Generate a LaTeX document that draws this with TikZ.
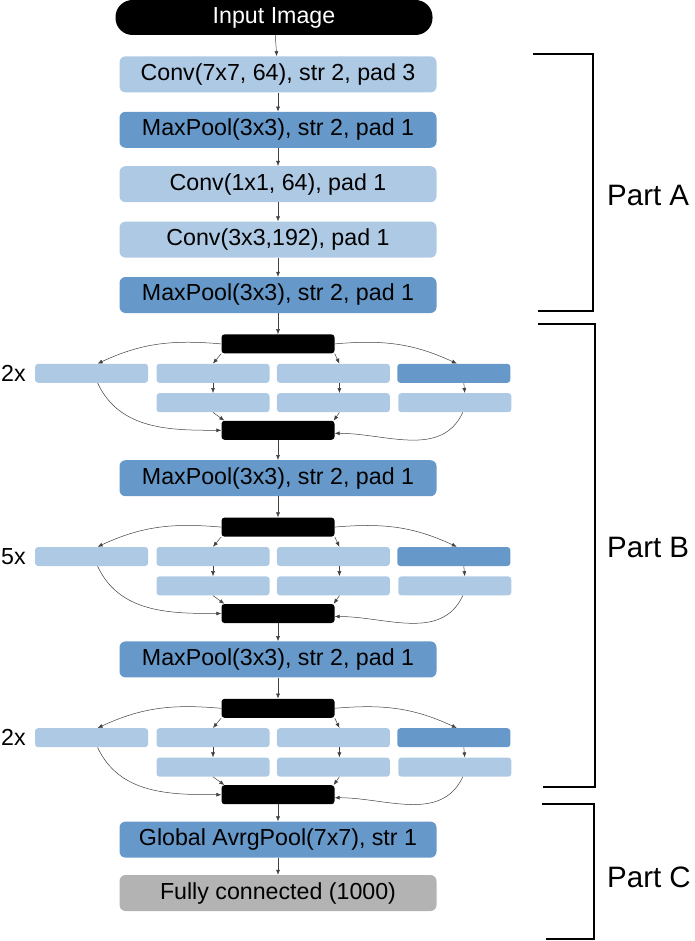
\documentclass[tikz,border=0pt]{standalone}
\usepackage{fontspec}
\setmainfont{Liberation Sans}
\usetikzlibrary{positioning,arrows.meta}
\definecolor{convblue}{HTML}{AEC9E4}
\definecolor{poolblue}{HTML}{6699CA}
\definecolor{fcgray}{HTML}{B3B3B3}

\begin{document}
\begin{tikzpicture}[
  x=1pt, y=-1pt,
  node distance=19pt,
  layerbox/.style={rounded corners=6pt, minimum width=317pt, minimum height=36pt, inner sep=0pt, font=\fontsize{23.2}{26}\selectfont},
  convbox/.style={layerbox, fill=convblue},
  poolbox/.style={layerbox, fill=poolblue},
  fcbox/.style={layerbox, fill=fcgray},
  catbar/.style={fill=black, rounded corners=3pt, minimum width=113pt, minimum height=19pt, inner sep=0pt},
  branchbox/.style={fill=convblue, rounded corners=3pt, minimum width=113pt, minimum height=19pt, inner sep=0pt},
  branchpool/.style={branchbox, fill=poolblue},
  arrow/.style={-{Latex[length=5pt,width=4pt]}, draw=black!75, line width=0.5pt},
  bracket/.style={line width=1.5pt},
  timesnote/.style={inner sep=0pt, font=\fontsize{23.2}{26}\selectfont},
  partnote/.style={anchor=west, inner sep=0pt, font=\fontsize{29.5}{32}\selectfont}
]
\useasboundingbox (0,0) rectangle (694,941);
\node[fill=black, text=white, rounded corners=17pt, minimum width=317pt, minimum height=35pt, inner sep=0pt, font=\fontsize{23.2}{26}\selectfont] (input) at (274,17.5) {Input Image};
\node[convbox, below=21pt of input, xshift=4pt] (conv1) {Conv(7x7, 64), str 2, pad 3};
\node[poolbox, below=of conv1] (pool1) {MaxPool(3x3), str 2, pad 1};
\node[convbox, below=18pt of pool1] (conv2) {Conv(1x1, 64), pad 1};
\node[convbox, below=of conv2] (conv3) {Conv(3x3,192), pad 1};
\node[poolbox, below=of conv3] (pool2) {MaxPool(3x3), str 2, pad 1};
\draw[arrow] (input) -- (conv1);
\draw[arrow] (conv1) -- (pool1);
\draw[arrow] (pool1) -- (conv2);
\draw[arrow] (conv2) -- (conv3);
\draw[arrow] (conv3) -- (pool2);

\node[catbar, below=21pt of pool2] (inc1top) {};
\node[branchbox, below=10pt of inc1top, xshift=-65pt] (inc1b2) {};
\node[branchbox, right=7pt of inc1b2] (inc1b3) {};
\node[branchpool, right=7pt of inc1b3] (inc1b4) {};
\node[branchbox, left=8pt of inc1b2] (inc1b1) {};
\node[branchbox, below=10pt of inc1b2] (inc1r2) {};
\node[branchbox, below=10pt of inc1b3] (inc1r3) {};
\node[branchbox, below=10pt of inc1b4, xshift=1pt] (inc1r4) {};
\node[catbar, below=67pt of inc1top] (inc1bot) {};
\node[timesnote, left=9pt of inc1b1] (inc1times) {2x};
\draw[arrow] (pool2) -- (inc1top);
\draw[arrow] (inc1top.west) to[out=175,in=25] ([xshift=6pt]inc1b1.north);
\draw[arrow] (inc1top.east) to[out=5,in=155] ([xshift=3pt]inc1b4.north);
\draw[arrow] (inc1top.south west) -- (inc1b2.north);
\draw[arrow] (inc1top.south east) -- ([xshift=6pt]inc1b3.north);
\draw[arrow] (inc1b2) -- (inc1r2);
\draw[arrow] ([xshift=6pt]inc1b3.south) -- ([xshift=6pt]inc1r3.north);
\draw[arrow] ([xshift=10pt]inc1b4.south) -- ([xshift=10pt]inc1r4.north);
\draw[arrow] ([xshift=6pt]inc1b1.south) to[out=-65,in=180] (inc1bot.west);
\draw[arrow] (inc1r2.south) -- ([xshift=3pt]inc1bot.north west);
\draw[arrow] ([xshift=6pt]inc1r3.south) -- ([xshift=-1pt]inc1bot.north east);
\draw[arrow] ([xshift=8pt]inc1r4.south) to[out=-115,in=0] ([yshift=-3pt]inc1bot.east);

\node[poolbox, below=20pt of inc1bot] (pool3) {MaxPool(3x3), str 2, pad 1};
\draw[arrow] (inc1bot) -- (pool3);

\node[catbar, below=21pt of pool3] (inc2top) {};
\node[branchbox, below=10pt of inc2top, xshift=-65pt] (inc2b2) {};
\node[branchbox, right=7pt of inc2b2] (inc2b3) {};
\node[branchpool, right=7pt of inc2b3] (inc2b4) {};
\node[branchbox, left=8pt of inc2b2] (inc2b1) {};
\node[branchbox, below=10pt of inc2b2] (inc2r2) {};
\node[branchbox, below=10pt of inc2b3] (inc2r3) {};
\node[branchbox, below=10pt of inc2b4, xshift=1pt] (inc2r4) {};
\node[catbar, below=67pt of inc2top] (inc2bot) {};
\node[timesnote, left=9pt of inc2b1] (inc2times) {5x};
\draw[arrow] (pool3) -- (inc2top);
\draw[arrow] (inc2top.west) to[out=175,in=25] ([xshift=6pt]inc2b1.north);
\draw[arrow] (inc2top.east) to[out=5,in=155] ([xshift=3pt]inc2b4.north);
\draw[arrow] (inc2top.south west) -- (inc2b2.north);
\draw[arrow] (inc2top.south east) -- ([xshift=6pt]inc2b3.north);
\draw[arrow] (inc2b2) -- (inc2r2);
\draw[arrow] ([xshift=6pt]inc2b3.south) -- ([xshift=6pt]inc2r3.north);
\draw[arrow] ([xshift=10pt]inc2b4.south) -- ([xshift=10pt]inc2r4.north);
\draw[arrow] ([xshift=6pt]inc2b1.south) to[out=-65,in=180] (inc2bot.west);
\draw[arrow] (inc2r2.south) -- ([xshift=3pt]inc2bot.north west);
\draw[arrow] ([xshift=6pt]inc2r3.south) -- ([xshift=-1pt]inc2bot.north east);
\draw[arrow] ([xshift=8pt]inc2r4.south) to[out=-115,in=0] ([yshift=-3pt]inc2bot.east);

\node[poolbox, below=18pt of inc2bot] (pool4) {MaxPool(3x3), str 2, pad 1};
\draw[arrow] (inc2bot) -- (pool4);

\node[catbar, below=21pt of pool4] (inc3top) {};
\node[branchbox, below=10pt of inc3top, xshift=-65pt] (inc3b2) {};
\node[branchbox, right=7pt of inc3b2] (inc3b3) {};
\node[branchpool, right=7pt of inc3b3] (inc3b4) {};
\node[branchbox, left=8pt of inc3b2] (inc3b1) {};
\node[branchbox, below=10pt of inc3b2] (inc3r2) {};
\node[branchbox, below=10pt of inc3b3] (inc3r3) {};
\node[branchbox, below=10pt of inc3b4, xshift=1pt] (inc3r4) {};
\node[catbar, below=67pt of inc3top] (inc3bot) {};
\node[timesnote, left=9pt of inc3b1] (inc3times) {2x};
\draw[arrow] (pool4) -- (inc3top);
\draw[arrow] (inc3top.west) to[out=175,in=25] ([xshift=6pt]inc3b1.north);
\draw[arrow] (inc3top.east) to[out=5,in=155] ([xshift=3pt]inc3b4.north);
\draw[arrow] (inc3top.south west) -- (inc3b2.north);
\draw[arrow] (inc3top.south east) -- ([xshift=6pt]inc3b3.north);
\draw[arrow] (inc3b2) -- (inc3r2);
\draw[arrow] ([xshift=6pt]inc3b3.south) -- ([xshift=6pt]inc3r3.north);
\draw[arrow] ([xshift=10pt]inc3b4.south) -- ([xshift=10pt]inc3r4.north);
\draw[arrow] ([xshift=6pt]inc3b1.south) to[out=-65,in=180] (inc3bot.west);
\draw[arrow] (inc3r2.south) -- ([xshift=3pt]inc3bot.north west);
\draw[arrow] ([xshift=6pt]inc3r3.south) -- ([xshift=-1pt]inc3bot.north east);
\draw[arrow] ([xshift=8pt]inc3r4.south) to[out=-115,in=0] ([yshift=-3pt]inc3bot.east);

\node[poolbox, below=17pt of inc3bot] (gpool) {Global AvrgPool(7x7), str 1};
\node[fcbox, below=17pt of gpool] (fc) {Fully connected (1000)};
\draw[arrow] (inc3bot) -- (gpool);
\draw[arrow] (gpool) -- (fc);

\draw[bracket] (533,54) -- (593,54) -- (593,311) -- (538,311);
\node[partnote] (partA) at (607,195) {Part A};
\draw[bracket] (538,324) -- (595,324) -- (595,787) -- (543,787);
\node[partnote] (partB) at (607,547) {Part B};
\draw[bracket] (542,804) -- (594,804) -- (594,939) -- (546,939);
\node[partnote] (partC) at (607,877) {Part C};
\end{tikzpicture}
\end{document}
